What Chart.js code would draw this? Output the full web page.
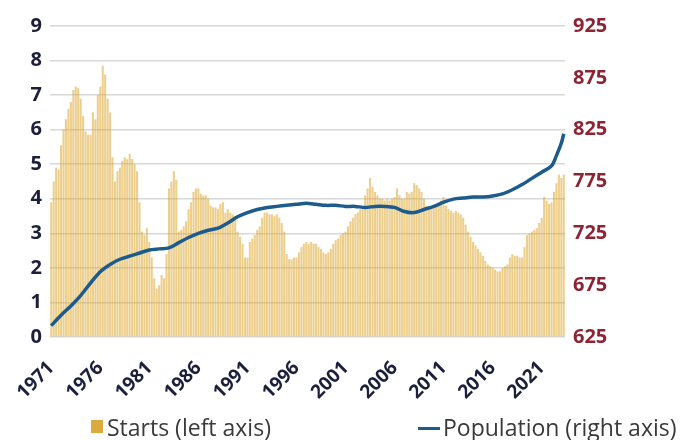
<!DOCTYPE html>
<html>
<head>
<meta charset="utf-8">
<script src="https://cdn.jsdelivr.net/npm/chart.js@4/dist/chart.umd.min.js"></script>
<style>
  html, body { margin: 0; padding: 0; background: #fff; }
  #wrap { position: relative; width: 683px; height: 440px; overflow: hidden; }
  .leg { position: absolute; top: 416px; font: 23px/23px "Open Sans", sans-serif; color: #3a3a3a; white-space: nowrap; }
  .leg i { position: absolute; display: block; }
</style>
</head>
<body>
<div id="wrap">
  <canvas id="chart"></canvas>
  <div class="leg" id="leg-starts" style="left:91px"><i id="box-starts" style="left:0;top:4px;width:12px;height:13px"></i><span style="margin-left:16px">Starts (left axis)</span></div>
  <div class="leg" id="leg-pop" style="left:418px"><i id="box-pop" style="left:0;top:11px;width:22px;height:3px"></i><span style="margin-left:25px">Population (right axis)</span></div>
</div>
<script>
// quarterly housing starts, 1971 Q1 .. 2023 Q2 (left axis)
const firstYear = 1971;
const starts = [
  3.9, 4.5, 4.9, 4.85,   5.55, 6.0, 6.3, 6.6,    6.8, 7.15, 7.25, 7.2,   6.9, 6.4, 5.95, 5.85,
  5.85, 6.5, 6.3, 7.0,   7.25, 7.85, 7.6, 6.9,   6.5, 5.2, 4.5, 4.8,     4.9, 5.1, 5.2, 5.15,
  5.3, 5.15, 5.0, 4.8,   3.9, 3.05, 2.95, 3.15,  2.75, 2.3, 1.7, 1.4,    1.5, 1.8, 1.7, 2.4,
  4.3, 4.5, 4.8, 4.55,   3.05, 3.1, 3.2, 3.35,   3.7, 3.9, 4.2, 4.3,     4.3, 4.15, 4.1, 4.1,
  4.0, 3.8, 3.75, 3.75,  3.7, 3.85, 3.9, 3.6,    3.7, 3.6, 3.55, 3.5,    3.05, 2.9, 2.7, 2.3,
  2.3, 2.75, 2.85, 2.95, 3.1, 3.2, 3.45, 3.6,    3.6, 3.55, 3.55, 3.5,   3.55, 3.45, 3.3, 3.05,
  2.4, 2.25, 2.25, 2.3,  2.3, 2.45, 2.6, 2.7,    2.75, 2.7, 2.75, 2.7,   2.7, 2.6, 2.55, 2.45,
  2.4, 2.45, 2.55, 2.7,  2.8, 2.85, 2.95, 3.0,   3.05, 3.2, 3.35, 3.45,  3.55, 3.6, 3.7, 3.7,
  4.1, 4.3, 4.6, 4.35,   4.2, 4.1, 4.0, 4.0,     3.95, 4.0, 3.95, 4.0,   4.05, 4.3, 4.1, 4.0,
  4.0, 4.2, 4.15, 4.2,   4.45, 4.4, 4.3, 4.2,    4.0, 3.8, 3.7, 3.7,     3.75, 3.8, 3.85, 3.95,
  4.05, 3.8, 3.7, 3.65,  3.6, 3.65, 3.6, 3.55,   3.45, 3.25, 3.05, 2.9,  2.75, 2.65, 2.55, 2.45,
  2.35, 2.2, 2.1, 2.05,  2.0, 1.95, 1.9, 1.9,    2.0, 2.05, 2.1, 2.3,    2.4, 2.35, 2.35, 2.3,
  2.3, 2.6, 2.95, 3.0,   3.05, 3.1, 3.15, 3.3,   3.45, 4.05, 3.95, 3.85, 3.9, 4.2, 4.45, 4.7,
  4.6, 4.7
];

// population (right axis), read at these quarters
const popAt = [
  '1971 Q1','1972 Q1','1973 Q1','1974 Q1','1975 Q1','1976 Q1','1977 Q1','1978 Q1','1979 Q1','1980 Q1',
  '1981 Q1','1982 Q1','1983 Q1','1984 Q1','1985 Q1','1986 Q1','1987 Q1','1988 Q1','1989 Q1','1990 Q1',
  '1991 Q1','1992 Q1','1993 Q1','1994 Q1','1995 Q1','1996 Q1','1997 Q1','1998 Q1','1999 Q1','2000 Q1',
  '2001 Q1','2002 Q1','2003 Q1','2004 Q1','2005 Q1','2006 Q1','2007 Q1','2008 Q1','2009 Q1','2010 Q1',
  '2011 Q1','2012 Q1','2013 Q1','2014 Q1','2015 Q1','2016 Q1','2017 Q1','2018 Q1','2019 Q1','2020 Q1',
  '2021 Q1','2022 Q1','2022 Q3','2023 Q1','2023 Q2'
];
const population = [
  636, 646, 655, 665, 677, 688, 695, 700, 703, 706,
  709, 710, 711, 716, 721, 725, 728, 730, 735, 741,
  745, 748, 750, 751, 752, 753, 754, 753, 752, 752,
  751, 751, 750, 751, 751, 750, 746, 745, 748, 751,
  755, 758, 759, 760, 760, 761, 763, 767, 772, 778,
  784, 790, 800, 812, 821
];

const tickYears = ['1971','1976','1981','1986','1991','1996','2001','2006','2011','2016','2021'];

const goldBar = 'rgba(222,168,48,0.55)';
const goldBox = '#dcab3e';
const blue = '#1d5b8c';
const navy = '#1b1f3b';
const wine = '#8c2434';

// quarter labels for the category axis
const quarters = [];
for (let i = 0; i < starts.length; i++) {
  quarters.push((firstYear + Math.floor(i / 4)) + ' Q' + (i % 4 + 1));
}

document.querySelector('#box-starts').style.background = goldBox;
document.querySelector('#box-pop').style.background = blue;

const tickFont = { family: 'Open Sans', weight: 'bold', size: 20 };

new Chart(document.querySelector('#chart'), {
  type: 'bar',
  data: {
    labels: quarters,
    datasets: [
      {
        type: 'line',
        label: 'Population (right axis)',
        data: popAt.map((q, i) => ({ x: q, y: population[i] })),
        yAxisID: 'y2',
        borderColor: blue,
        borderWidth: 3.5,
        pointRadius: 0,
        tension: 0.3,
        order: 0
      },
      {
        label: 'Starts (left axis)',
        data: starts,
        yAxisID: 'y',
        backgroundColor: goldBar,
        categoryPercentage: 1,
        barPercentage: 0.85,
        order: 1
      }
    ]
  },
  options: {
    responsive: true,
    maintainAspectRatio: false,
    animation: false,
    layout: { padding: { top: 26, bottom: 40, left: 0, right: 0 } },
    plugins: { legend: { display: false }, tooltip: { enabled: false } },
    scales: {
      x: {
        grid: { display: false },
        border: { display: false },
        ticks: {
          autoSkip: false,
          maxRotation: 45,
          minRotation: 45,
          padding: 12,
          color: navy,
          font: { family: 'Open Sans', weight: 'bold', size: 19 },
          callback(v) {
            const l = this.getLabelForValue(v);
            const yr = l.slice(0, 4);
            return (l.endsWith('Q1') && tickYears.includes(yr)) ? yr : null;
          }
        },
        afterFit(s) { s.height = 63; }
      },
      y: {
        position: 'left',
        min: 0,
        max: 9,
        ticks: { stepSize: 1, padding: 8, color: navy, font: tickFont },
        grid: { color: '#d8d8d8', lineWidth: 1.5, drawTicks: false },
        border: { display: false },
        afterFit(s) { s.width = 50; }
      },
      y2: {
        position: 'right',
        min: 625,
        max: 925,
        ticks: { stepSize: 50, padding: 8, color: wine, font: tickFont },
        grid: { display: false, drawTicks: false },
        border: { display: false },
        afterFit(s) { s.width = 118; }
      }
    }
  }
});
</script>
</body>
</html>
